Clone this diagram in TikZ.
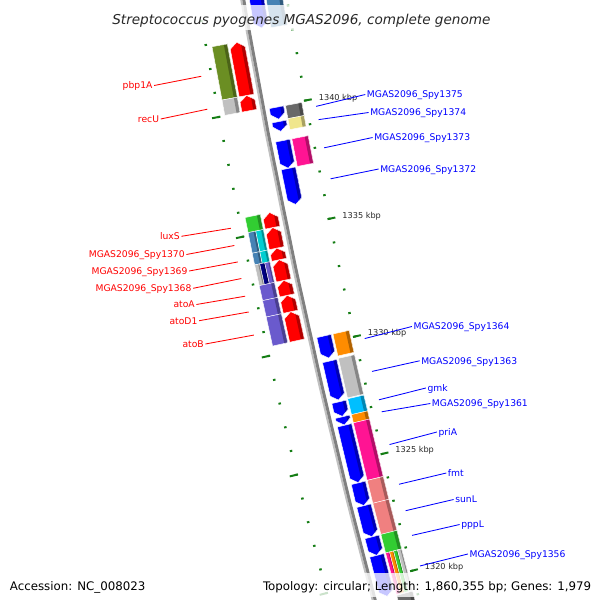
\documentclass[tikz,border=0pt]{standalone}
\usepackage{fontspec}
\setmainfont{DejaVu Sans}
\usetikzlibrary{calc}

\newcommand{\lblfont}{\fontsize{6.55}{8}\selectfont}
\newcommand{\kbpfont}{\fontsize{5.8}{7}\selectfont}
\newcommand{\ttlfont}{\fontsize{9.67}{11}\selectfont\itshape}
\newcommand{\ftrfont}{\fontsize{8.4}{10}\selectfont}

\begin{document}
\begin{tikzpicture}[x=0.025cm,y=-0.025cm,
  fwdlab/.style={text=map_red,anchor=east,inner sep=1pt,font=\lblfont,text height=4.8pt,text depth=0pt},
  revlab/.style={text=map_blue,anchor=west,inner sep=1pt,font=\lblfont,text height=4.8pt,text depth=0pt},
  fwdline/.style={map_red,line width=0.6pt},
  revline/.style={map_blue,line width=0.6pt},
  tickmark/.style={map_tick,line width=1.4pt},
  kbplab/.style={anchor=west,inner sep=0pt,font=\kbpfont,text=map_text,text height=4.2pt,text depth=0pt}]
% ------------------------------------------------ map colours
\definecolor{map_red}{RGB}{255,0,0}
\definecolor{map_blue}{RGB}{0,0,255}
\definecolor{map_tick}{RGB}{20,125,20}
\definecolor{map_text}{RGB}{40,40,40}
\definecolor{cog_olive}{RGB}{107,142,35}
\definecolor{cog_silver}{RGB}{192,192,192}
\definecolor{cog_lime}{RGB}{50,205,50}
\definecolor{cog_steel}{RGB}{70,130,180}
\definecolor{cog_turq}{RGB}{0,206,209}
\definecolor{cog_navy}{RGB}{0,0,128}
\definecolor{cog_slate}{RGB}{106,90,205}
\definecolor{cog_dim}{RGB}{105,105,105}
\definecolor{cog_khaki}{RGB}{240,230,140}
\definecolor{cog_pink}{RGB}{255,20,147}
\definecolor{cog_orange}{RGB}{255,140,0}
\definecolor{cog_sky}{RGB}{0,191,255}
\definecolor{cog_coral}{RGB}{240,128,128}

% point at (kbp, px right of the backbone), map centre far to the right
\def\kp#1#2{({167.30+0.19351*((#1)-1330)}:{7184-(#2)})}

% forward gene, points to higher kbp: from, to, colour
\newcommand{\fwdgene}[3]{
  \pgfmathsetmacro\kh{max(#1,#2-0.23)}
  \def\fshape{\kp{#1}{-21} -- \kp{\kh}{-21} -- \kp{#2}{-13.5} -- \kp{\kh}{-6} -- \kp{#1}{-6} -- cycle}
  \fill[#3] \fshape;
  \begin{scope}
    \clip \kp{#1-1}{-9.5} -- \kp{#2+1}{-9.5} -- \kp{#2+1}{0} -- \kp{#1-1}{0} -- cycle;
    \fill[#3!70!black] \fshape;
  \end{scope}
  \draw[white,line width=0.3pt] \fshape;
}
% reverse gene, points to lower kbp
\newcommand{\revgene}[3]{
  \pgfmathsetmacro\kh{min(#2,#1+0.23)}
  \def\rshape{\kp{#2}{6.5} -- \kp{\kh}{6.5} -- \kp{#1}{13.75} -- \kp{\kh}{21} -- \kp{#2}{21} -- cycle}
  \fill[#3] \rshape;
  \begin{scope}
    \clip \kp{#1-1}{17.5} -- \kp{#2+1}{17.5} -- \kp{#2+1}{25} -- \kp{#1-1}{25} -- cycle;
    \fill[#3!70!black] \rshape;
  \end{scope}
  \draw[white,line width=0.3pt] \rshape;
}
% COG box: from, to, inner s, outer s, colour
\newcommand{\cogbox}[5]{
  \pgfmathsetmacro\sd{#4-min(3.5,0.3*(#4-(#3)))}
  \def\cshape{\kp{#1}{#3} -- \kp{#2}{#3} -- \kp{#2}{#4} -- \kp{#1}{#4} -- cycle}
  \fill[#5] \cshape;
  \fill[#5!70!black] \kp{#1}{\sd} -- \kp{#2}{\sd} -- \kp{#2}{#4} -- \kp{#1}{#4} -- cycle;
  \draw[white,line width=0.3pt] \cshape;
}

\useasboundingbox (0,0) rectangle (600,600);
\fill[white] (0,0) rectangle (600,600);
\clip (0,0) rectangle (600,600);

\begin{scope}[shift={(7320,-1233)}]
% ------------------------------------------------ backbone
\draw[cog_silver,line width=1.4pt] plot[domain=164.6:170.8,samples=40] (\x:7185.5);
\draw[gray,line width=2.1pt] plot[domain=164.6:170.8,samples=40] (\x:7183);

% ------------------------------------------------ ticks
\foreach \kb in {1317,...,1347}{
  \draw[tickmark] \kp{\kb}{42.5} -- \kp{\kb}{45};
  \draw[tickmark] \kp{\kb}{-43} -- \kp{\kb}{-45.5};
}
\foreach \kb in {1320,1325,...,1345}{
  \draw[tickmark] \kp{\kb}{42} -- \kp{\kb}{50};
  \draw[tickmark] \kp{\kb}{-43.5} -- \kp{\kb}{-51.5};
}
\foreach \kb in {1320,1325,...,1340}
  \path \kp{\kb}{57} node[kbplab,yshift=0.6pt] (kbp\kb) {\kb\ kbp};

% ------------------------------------------------ forward strand
\cogbox{1340.66}{1342.88}{-38.5}{-23}{cog_olive}
\cogbox{1340.02}{1340.66}{-38.5}{-23}{cog_silver}
\fwdgene{1340.66}{1342.88}{map_red}
\fwdgene{1340.02}{1340.66}{map_red}

\cogbox{1335.12}{1335.75}{-38.5}{-23}{cog_lime}
\cogbox{1334.26}{1335.12}{-38.5}{-30.75}{cog_steel}
\cogbox{1334.26}{1335.12}{-30.75}{-23}{cog_turq}
\cogbox{1333.77}{1334.26}{-38.5}{-30.75}{cog_steel}
\cogbox{1333.77}{1334.26}{-30.75}{-23}{cog_turq}
\cogbox{1332.90}{1333.77}{-38.5}{-33.3}{cog_silver}
\cogbox{1332.90}{1333.77}{-33.3}{-28.2}{cog_navy}
\cogbox{1332.90}{1333.77}{-28.2}{-23}{cog_slate}
\cogbox{1332.27}{1332.90}{-38.5}{-23}{cog_slate}
\cogbox{1331.58}{1332.27}{-38.5}{-23}{cog_slate}
\cogbox{1330.36}{1331.58}{-38.5}{-23}{cog_slate}
\fwdgene{1335.12}{1335.75}{map_red}
\fwdgene{1334.26}{1335.12}{map_red}
\fwdgene{1333.77}{1334.26}{map_red}
\fwdgene{1332.90}{1333.77}{map_red}
\fwdgene{1332.27}{1332.90}{map_red}
\fwdgene{1331.58}{1332.27}{map_red}
\fwdgene{1330.36}{1331.58}{map_red}

% ------------------------------------------------ reverse strand
\cogbox{1343.22}{1347}{23}{39.5}{cog_steel}
\revgene{1343.28}{1347}{map_blue}
\cogbox{1339.40}{1339.95}{23}{39.5}{cog_dim}
\cogbox{1338.94}{1339.40}{23}{39.5}{cog_khaki}
\cogbox{1337.39}{1338.55}{23}{39.5}{cog_pink}
\revgene{1339.45}{1339.95}{map_blue}
\revgene{1338.94}{1339.35}{map_blue}
\revgene{1337.39}{1338.55}{map_blue}
\revgene{1335.86}{1337.38}{map_blue}

\cogbox{1329.37}{1330.30}{23}{39.5}{cog_orange}
\cogbox{1327.59}{1329.27}{23}{39.5}{cog_silver}
\cogbox{1326.88}{1327.55}{23}{39.5}{cog_sky}
\cogbox{1326.53}{1326.88}{23}{39.5}{cog_orange}
\cogbox{1324.09}{1326.53}{23}{39.5}{cog_pink}
\cogbox{1323.11}{1324.08}{23}{39.5}{cog_coral}
\cogbox{1321.78}{1323.11}{23}{39.5}{cog_coral}
\cogbox{1320.99}{1321.78}{23}{39.5}{cog_lime}
\cogbox{1319.22}{1320.99}{23}{27.1}{cog_pink}
\cogbox{1319.22}{1320.99}{27.1}{31.2}{cog_orange}
\cogbox{1319.22}{1320.99}{31.2}{35.3}{cog_lime}
\cogbox{1319.22}{1320.99}{35.3}{39.5}{cog_silver}
\cogbox{1317.50}{1319.18}{23}{39.5}{cog_dim}
\revgene{1329.37}{1330.30}{map_blue}
\revgene{1327.59}{1329.24}{map_blue}
\revgene{1326.90}{1327.51}{map_blue}
\revgene{1326.53}{1326.88}{map_blue}
\revgene{1324.09}{1326.52}{map_blue}
\revgene{1323.11}{1324.07}{map_blue}
\revgene{1321.78}{1323.10}{map_blue}
\revgene{1320.99}{1321.77}{map_blue}
\revgene{1319.24}{1320.98}{map_blue}

% ------------------------------------------------ label anchors on the map
\path \kp{1341.77}{-54.5} coordinate (p-pbp1A);
\path \kp{1340.40}{-54.5} coordinate (p-recU);
\path \kp{1335.44}{-54.5} coordinate (p-luxS);
\path \kp{1334.72}{-54.5} coordinate (p-spy1370);
\path \kp{1334.03}{-54.5} coordinate (p-spy1369);
\path \kp{1333.34}{-54.5} coordinate (p-spy1368);
\path \kp{1332.60}{-54.5} coordinate (p-atoA);
\path \kp{1331.94}{-54.5} coordinate (p-atoD1);
\path \kp{1330.97}{-54.5} coordinate (p-atoB);
\path \kp{1339.68}{53} coordinate (p-spy1375);
\path \kp{1339.12}{53} coordinate (p-spy1374);
\path \kp{1337.93}{53} coordinate (p-spy1373);
\path \kp{1336.61}{53} coordinate (p-spy1372);
\path \kp{1329.83}{53} coordinate (p-spy1364);
\path \kp{1328.43}{53} coordinate (p-spy1363);
\path \kp{1327.22}{53} coordinate (p-gmk);
\path \kp{1326.71}{53} coordinate (p-spy1361);
\path \kp{1325.31}{53} coordinate (p-priA);
\path \kp{1323.61}{53} coordinate (p-fmt);
\path \kp{1322.48}{53} coordinate (p-sunL);
\path \kp{1321.42}{53} coordinate (p-pppL);
\path \kp{1320.11}{53} coordinate (p-spy1356);
\end{scope}

% ------------------------------------------------ forward labels
\node[fwdlab] (pbp1A) at (154.1,85.5) {pbp1A};
\node[fwdlab] (recU) at (160.7,119) {recU};
\node[fwdlab] (luxS) at (181.4,236.3) {luxS};
\node[fwdlab] (spy1370) at (186.4,254.5) {MGAS2096\_Spy1370};
\node[fwdlab] (spy1369) at (189.1,271) {MGAS2096\_Spy1369};
\node[fwdlab] (spy1368) at (193.1,288.3) {MGAS2096\_Spy1368};
\node[fwdlab] (atoA) at (196.4,304.5) {atoA};
\node[fwdlab] (atoD1) at (199.1,320.7) {atoD1};
\node[fwdlab] (atoB) at (205.4,344) {atoB};
\foreach \g in {pbp1A,recU,luxS,spy1370,spy1369,spy1368,atoA,atoD1,atoB}
  \draw[fwdline] (p-\g) -- (\g.east);

% ------------------------------------------------ reverse labels
\node[revlab] (spy1375) at (365.3,94.5) {MGAS2096\_Spy1375};
\node[revlab] (spy1374) at (368.6,112.5) {MGAS2096\_Spy1374};
\node[revlab] (spy1373) at (372.6,137.5) {MGAS2096\_Spy1373};
\node[revlab] (spy1372) at (378.6,169) {MGAS2096\_Spy1372};
\node[revlab] (spy1364) at (411.9,326.5) {MGAS2096\_Spy1364};
\node[revlab] (spy1363) at (419.6,360.8) {MGAS2096\_Spy1363};
\node[revlab] (gmk) at (425.9,388) {gmk};
\node[revlab] (spy1361) at (430.3,403.5) {MGAS2096\_Spy1361};
\node[revlab] (priA) at (436.9,432) {priA};
\node[revlab] (fmt) at (446.3,473) {fmt};
\node[revlab] (sunL) at (453.6,499.5) {sunL};
\node[revlab] (pppL) at (459.6,524.5) {pppL};
\node[revlab] (spy1356) at (467.9,554) {MGAS2096\_Spy1356};
\foreach \g in {spy1375,spy1374,spy1373,spy1372,spy1364,spy1363,gmk,spy1361,priA,fmt,sunL,pppL,spy1356}
  \draw[revline] (p-\g) -- (\g.west);

% ------------------------------------------------ title and footer
\fill[white,fill opacity=0.78] (104,5) rectangle (498,30);
\fill[white,fill opacity=0.78] (3,573) rectangle (150,597);
\fill[white,fill opacity=0.78] (255,573) rectangle (597,597);
\node[font=\ttlfont,text=map_text,inner sep=0pt,text height=7.06pt,text depth=0pt] (title) at (301.4,20) {Streptococcus pyogenes MGAS2096, complete genome};
\node[font=\ftrfont,anchor=west,inner sep=0pt,text height=6.1pt,text depth=0pt] (accession) at (9.6,585.8) {Accession: NC\_008023};
\node[font=\ftrfont,anchor=east,inner sep=0pt,text height=6.1pt,text depth=0pt] (topology) at (591.5,585.8) {Topology: circular; Length: 1,860,355 bp; Genes: 1,979};
\end{tikzpicture}
\end{document}
